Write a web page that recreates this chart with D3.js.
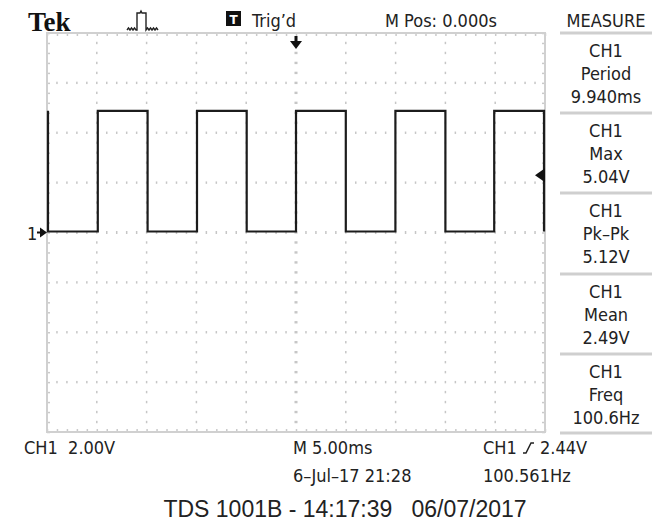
<!DOCTYPE html>
<html>
<head>
<meta charset="utf-8">
<script src="https://cdn.jsdelivr.net/npm/d3@7"></script>
<style>
body{margin:0;background:#fff}
text{fill:#222}
.lcd{font-family:"DejaVu Sans Condensed","Liberation Sans Narrow",sans-serif;font-size:18px}
</style>
</head>
<body>
<svg id="scope"></svg>
<script>
// trace corners: time (ms from trigger) and volts
const traceMs = [-24.9,-24.9,-19.9,-19.9,-14.9,-14.9,-9.94,-9.94,-4.95,-4.95,0,0,5.0,5.0,9.98,9.98,15.0,15.0,19.9,19.9,24.9,24.9]
const traceV  = [4.88,0.04,0.04,4.88,4.88,0.04,0.04,4.88,4.88,0.04,0.04,4.88,4.88,0.04,0.04,4.88,4.88,0.04,0.04,4.88,4.88,0.04]

// measure panel
const measureCh     = ["CH1","CH1","CH1","CH1","CH1"]
const measureLabels = ["Period","Max","Pk–Pk","Mean","Freq"]
const measureValues = ["9.940ms","5.04V","5.12V","2.49V","100.6Hz"]

const trigLevelV = 2.3   // where the level arrow sits on screen
const trigTimeMs = 0

const width = 667
const height = 523

const svg = d3.select("#scope").attr("width", width).attr("height", height)
svg.append("rect").attr("width", width).attr("height", height).attr("fill", "#fff")

// 5 ms/div, 10 div ; 2 V/div, 8 div
const x = d3.scaleLinear().domain([-25, 25]).range([47, 545])
const y = d3.scaleLinear().domain([-8, 8]).range([432, 33])

//网格点
const grid = svg.append("g")
const dotCol = "#c6c6c6"
d3.range(-20, 21, 5).forEach(function(t){
    const w = t === 0 ? 3 : 1.5
    grid.selectAll(null).data(d3.range(-7.6, 7.7, 0.4)).enter()
        .append("rect")
        .attr("x", x(t) - w/2).attr("y", d => y(d) - 1.2)
        .attr("width", w).attr("height", 2.4)
        .attr("fill", dotCol)
})
d3.range(-6, 7, 2).forEach(function(v){
    const h = v === 0 ? 3 : 2.4
    grid.selectAll(null).data(d3.range(-24, 25, 1).filter(t => t % 5 !== 0)).enter()
        .append("rect")
        .attr("x", d => x(d) - 0.75).attr("y", y(v) - h/2)
        .attr("width", 1.5).attr("height", h)
        .attr("fill", dotCol)
})

// border + minor ticks
const minorT = d3.range(-25, 25.01, 1)
const minorV = d3.range(-8, 8.01, 0.4)
function edge(g){ g.select(".domain").remove(); g.selectAll("line").attr("stroke", "#cacaca").attr("stroke-width", 1.5) }
svg.append("g").attr("transform", "translate(0,33)")
    .call(d3.axisBottom(x).tickValues(minorT).tickSize(3).tickFormat("")).call(edge)
svg.append("g").attr("transform", "translate(0,432)")
    .call(d3.axisTop(x).tickValues(minorT).tickSize(3).tickFormat("")).call(edge)
svg.append("g").attr("transform", "translate(47,0)")
    .call(d3.axisRight(y).tickValues(minorV).tickSize(3).tickFormat("")).call(edge)
svg.append("g").attr("transform", "translate(545,0)")
    .call(d3.axisLeft(y).tickValues(minorV).tickSize(3).tickFormat("")).call(edge)
svg.append("rect")
    .attr("x", x(-25)).attr("y", y(8))
    .attr("width", x(25) - x(-25)).attr("height", y(-8) - y(8))
    .attr("fill", "none").attr("stroke", "#d0d0d0").attr("stroke-width", 2)

// waveform
const line = d3.line().x((d, i) => x(traceMs[i])).y(d => y(d))
svg.append("path").datum(traceV)
    .attr("d", line)
    .attr("fill", "none").attr("stroke", "#1c1c1c").attr("stroke-width", 2.2)

// markers
const tx = x(trigTimeMs)
svg.append("path")
    .attr("d", `M${tx-1.5},36 h3 v5 h4.5 l-6,8 l-6,-8 h4.5 z`)
    .attr("fill", "#111")
const ly = y(trigLevelV)
svg.append("path")
    .attr("d", `M${x(25)},${ly-7} v14 l-10,-7 z`)
    .attr("fill", "#111")
const gy = y(0)
svg.append("text").attr("class", "lcd").attr("x", 27).attr("y", gy + 7).text("1")
svg.append("path")
    .attr("d", `M37,${gy-1} h3 v-4 l7,5 l-7,5 v-4 h-3 z`)
    .attr("fill", "#111")

// header
svg.append("text").attr("x", 28).attr("y", 31)
    .style("font-family", "'Liberation Serif','DejaVu Serif',serif")
    .style("font-weight", "bold").style("font-size", "27px").style("fill", "#111")
    .text("Tek")
svg.append("path")
    .attr("d", "M127,30 l1.5,-2 l1.5,2 l1.5,-2 l1.5,2 l1.5,-2 l1.5,2 l1,0 v-17 h3 l1,-2 l1,2 h4 v17 l1.5,-2 l1.5,2 l1.5,-2 l1.5,2 l1.5,-2 l1.5,2 l1.5,-2 l1.5,2")
    .attr("fill", "none").attr("stroke", "#222").attr("stroke-width", 1.4)
svg.append("rect").attr("x", 226).attr("y", 11).attr("width", 15).attr("height", 15).attr("fill", "#111")
svg.append("text").attr("x", 233.5).attr("y", 23.5).attr("text-anchor", "middle")
    .style("font-family", "'DejaVu Sans',sans-serif").style("font-weight", "bold").style("font-size", "12px").style("fill", "#fff")
    .text("T")
svg.append("text").attr("class", "lcd").attr("x", 252).attr("y", 27).text("Trig’d")
svg.append("text").attr("class", "lcd").attr("x", 385).attr("y", 27).text("M Pos: 0.000s")
svg.append("text").attr("class", "lcd").attr("x", 606).attr("y", 27).attr("text-anchor", "middle").text("MEASURE")

// measure panel
const sepY = [33, 113, 193, 274, 354, 433]
svg.selectAll(".sep").data(sepY).enter().append("line")
    .attr("class", "sep")
    .attr("x1", 560).attr("x2", 652)
    .attr("y1", d => d).attr("y2", d => d)
    .attr("stroke", "#cfcfcf").attr("stroke-width", 3)
const box = svg.selectAll(".box").data(measureLabels).enter().append("g")
    .attr("class", "box")
    .attr("transform", (d, i) => `translate(606,${sepY[i]})`)
box.append("text").attr("class", "lcd").attr("text-anchor", "middle").attr("y", 24).text((d, i) => measureCh[i])
box.append("text").attr("class", "lcd").attr("text-anchor", "middle").attr("y", 47).text(d => d)
box.append("text").attr("class", "lcd").attr("text-anchor", "middle").attr("y", 70).text((d, i) => measureValues[i])

// footer
svg.append("text").attr("class", "lcd").attr("x", 24).attr("y", 454).style("white-space", "pre").text("CH1  2.00V")
svg.append("text").attr("class", "lcd").attr("x", 293).attr("y", 454).text("M 5.00ms")
svg.append("text").attr("class", "lcd").attr("x", 293).attr("y", 482).text("6–Jul–17 21:28")
svg.append("text").attr("class", "lcd").attr("x", 483).attr("y", 454).text("CH1")
svg.append("path")
    .attr("d", "M523,453 h3 l5,-10 h3")
    .attr("fill", "none").attr("stroke", "#222").attr("stroke-width", 1.5)
svg.append("text").attr("class", "lcd").attr("x", 540).attr("y", 454).text("2.44V")
svg.append("text").attr("class", "lcd").attr("x", 483).attr("y", 482).text("100.561Hz")

svg.append("text").attr("x", 345).attr("y", 517).attr("text-anchor", "middle")
    .style("font-family", "'Liberation Sans',Arial,sans-serif").style("font-size", "23px")
    .style("white-space", "pre")
    .text("TDS 1001B - 14:17:39   06/07/2017")
</script>
</body>
</html>
